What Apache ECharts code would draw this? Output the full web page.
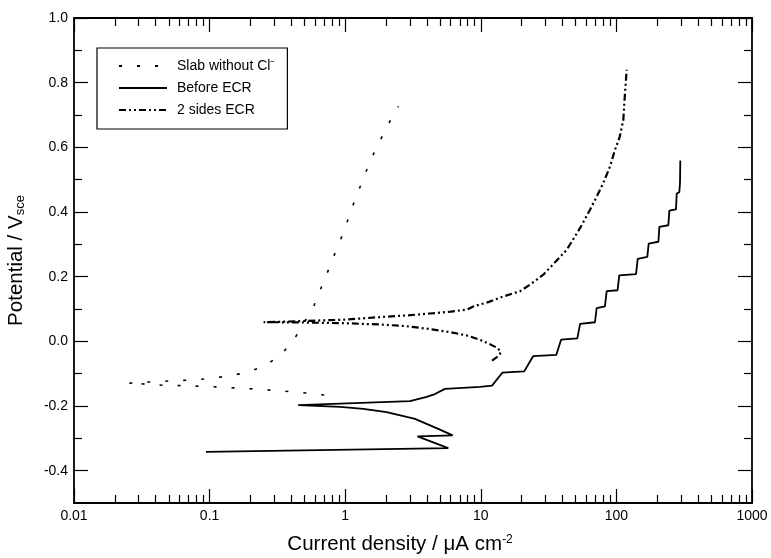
<!DOCTYPE html>
<html>
<head>
<meta charset="utf-8">
<script src="https://cdn.jsdelivr.net/npm/echarts@6/dist/echarts.min.js"></script>
<style>
html, body { margin: 0; padding: 0; background: #fff; }
#chart { width: 771px; height: 558px; }
</style>
</head>
<body>
<div id="chart"></div>
<script>
// Slab without Cl- (dotted)
const slabX = [0.70, 0.514, 0.383, 0.282, 0.208, 0.154, 0.114, 0.084, 0.062, 0.046, 0.034, 0.025,
  0.029, 0.040, 0.054, 0.072, 0.099, 0.134, 0.18, 0.242, 0.33, 0.418, 0.50, 0.592, 0.671, 0.759,
  0.855, 0.968, 1.08, 1.20, 1.36, 1.52, 1.76, 2.05, 2.47];
const slabY = [-0.166, -0.160, -0.155, -0.151, -0.147, -0.144, -0.141, -0.139, -0.137, -0.136, -0.132, -0.130,
  -0.127, -0.125, -0.122, -0.120, -0.115, -0.108, -0.098, -0.080, -0.046, 0.005, 0.058, 0.113, 0.170, 0.225,
  0.280, 0.335, 0.392, 0.446, 0.502, 0.556, 0.611, 0.667, 0.727];

// Before ECR (solid)
const beforeX = [0.094, 5.76, 3.41, 6.2, 5.0, 3.27, 2.84, 2.02, 1.36, 0.92, 0.45, 3.0, 3.99, 4.59, 5.44,
  9.87, 12.1, 14.4, 20.9, 24.3, 36, 39.1, 51.5, 54, 69.5, 71.5, 82.3, 84.8, 102, 105, 139.6, 143.6,
  169, 173, 204, 207.5, 241.7, 245.6, 275, 278.6, 291, 294.5, 296];
const beforeY = [-0.342, -0.330, -0.294, -0.291, -0.273, -0.240, -0.234, -0.219, -0.209, -0.203, -0.197,
  -0.185, -0.172, -0.163, -0.147, -0.141, -0.137, -0.097, -0.093, -0.046, -0.042, 0.005, 0.009, 0.054,
  0.059, 0.103, 0.108, 0.155, 0.158, 0.204, 0.208, 0.255, 0.261, 0.302, 0.308, 0.354, 0.359, 0.404,
  0.408, 0.457, 0.461, 0.490, 0.559];

// 2 sides ECR (dash-dot-dot)
const ecrX = [12.1, 13.5, 14.1, 13.2, 11.5, 9.86, 7.9, 6.0, 4.22, 2.8, 1.81, 1.0, 0.55, 0.33, 0.25,
  0.5, 1.0, 1.81, 2.8, 4.22, 6.0, 7.87, 8.81, 11.5, 14.7, 19.5, 23.5, 28.9, 35, 43, 53.9, 63.9, 72,
  80.1, 89.8, 97.7, 103, 106, 112.5, 115.7, 117.5, 119];
const ecrY = [-0.060, -0.045, -0.033, -0.020, -0.008, 0.005, 0.018, 0.028, 0.038, 0.047, 0.052, 0.056,
  0.058, 0.059, 0.059, 0.063, 0.067, 0.075, 0.080, 0.086, 0.092, 0.098, 0.108, 0.122, 0.139, 0.155,
  0.178, 0.206, 0.243, 0.283, 0.350, 0.407, 0.450, 0.490, 0.541, 0.593, 0.618, 0.634, 0.685, 0.768,
  0.805, 0.840];

const xMajor = [0.01, 0.1, 1, 10, 100, 1000];
const yMajor = [-0.4, -0.2, 0.0, 0.2, 0.4, 0.6, 0.8, 1.0];
const yMinor = [-0.3, -0.1, 0.1, 0.3, 0.5, 0.7, 0.9];
const xMinor = [];
[0.01, 0.1, 1, 10, 100].forEach(d => {
  for (let k = 2; k <= 9; k++) xMinor.push(+(d * k).toPrecision(3));
});

const FONT = 'Liberation Sans, Arial, Helvetica, sans-serif';
const zip = (xs, ys) => xs.map((x, i) => [x, ys[i]]);

function xAxisOf(pos, ticks, len, withLine, withLabel) {
  return {
    type: 'log', logBase: 10, min: 0.01, max: 1000, position: pos,
    axisLine: { show: withLine, onZero: false, lineStyle: { color: '#000', width: 1.8 } },
    axisTick: { show: true, inside: true, length: len, customValues: ticks, lineStyle: { color: '#000', width: 1.2 } },
    axisLabel: withLabel ? {
      show: true, customValues: xMajor, margin: 6, color: '#000', fontSize: 14, fontFamily: FONT,
      formatter: v => String(parseFloat(Number(v).toPrecision(3)))
    } : { show: false },
    splitLine: { show: false }
  };
}

function yAxisOf(pos, ticks, len, withLine, withLabel) {
  return {
    type: 'value', min: -0.5, max: 1.0, position: pos,
    axisLine: { show: withLine, onZero: false, lineStyle: { color: '#000', width: 1.8 } },
    axisTick: { show: true, inside: true, length: len, customValues: ticks, lineStyle: { color: '#000', width: 1.2 } },
    axisLabel: withLabel ? {
      show: true, customValues: yMajor, margin: 6, color: '#000', fontSize: 14, fontFamily: FONT,
      formatter: v => Number(v).toFixed(1)
    } : { show: false },
    splitLine: { show: false }
  };
}

const xBottom = xAxisOf('bottom', xMajor, 14, true, true);
xBottom.name = 'Current density / μA cm{sup|-2}';
xBottom.nameLocation = 'middle';
xBottom.nameGap = 31;
xBottom.nameTextStyle = {
  fontSize: 20.5, color: '#000', fontFamily: FONT, padding: [0, 26, 0, 0],
  rich: { sup: { fontSize: 12, color: '#000', fontFamily: FONT, verticalAlign: 'top' } }
};

const yLeft = yAxisOf('left', yMajor, 14, true, true);
yLeft.name = 'Potential / V{sub|sce}';
yLeft.nameLocation = 'middle';
yLeft.nameGap = 47;
yLeft.nameTextStyle = {
  fontSize: 20.5, color: '#000', fontFamily: FONT,
  rich: { sub: { fontSize: 13, color: '#000', fontFamily: FONT, verticalAlign: 'bottom' } }
};

const chart = echarts.init(document.getElementById('chart'));
chart.setOption({
  animation: false,
  backgroundColor: '#fff',
  grid: { left: 74, right: 19, top: 18, bottom: 55, outerBoundsMode: 'none', containLabel: false },
  legend: {
    left: 97, top: 48, orient: 'vertical',
    borderColor: '#000', borderWidth: 1.2, padding: [11, 12, 12, 21],
    itemGap: 8, itemWidth: 48, itemHeight: 14,
    itemStyle: { opacity: 0 },
    textStyle: { fontSize: 14, color: '#000', fontFamily: FONT, padding: [0, 0, 0, 5] },
    data: ['Slab without Cl⁻', 'Before ECR', '2 sides ECR']
  },
  xAxis: [
    xBottom,
    xAxisOf('bottom', xMinor, 8, false, false),
    xAxisOf('top', xMajor, 14, true, false),
    xAxisOf('top', xMinor, 8, false, false)
  ],
  yAxis: [
    yLeft,
    yAxisOf('left', yMinor, 8, false, false),
    yAxisOf('right', yMajor, 14, true, false),
    yAxisOf('right', yMinor, 8, false, false)
  ],
  series: [
    {
      name: 'Slab without Cl⁻', type: 'line', symbol: 'none', xAxisIndex: 0, yAxisIndex: 0,
      lineStyle: { color: '#000', width: 1.6, type: [3, 15] },
      data: zip(slabX, slabY)
    },
    {
      name: 'Before ECR', type: 'line', symbol: 'none', xAxisIndex: 0, yAxisIndex: 0,
      lineStyle: { color: '#000', width: 1.8 },
      data: zip(beforeX, beforeY)
    },
    {
      name: '2 sides ECR', type: 'line', symbol: 'none', xAxisIndex: 0, yAxisIndex: 0,
      lineStyle: { color: '#000', width: 2.2, type: [7, 3, 2, 3, 2, 3] },
      data: zip(ecrX, ecrY)
    }
  ]
});
</script>
</body>
</html>
